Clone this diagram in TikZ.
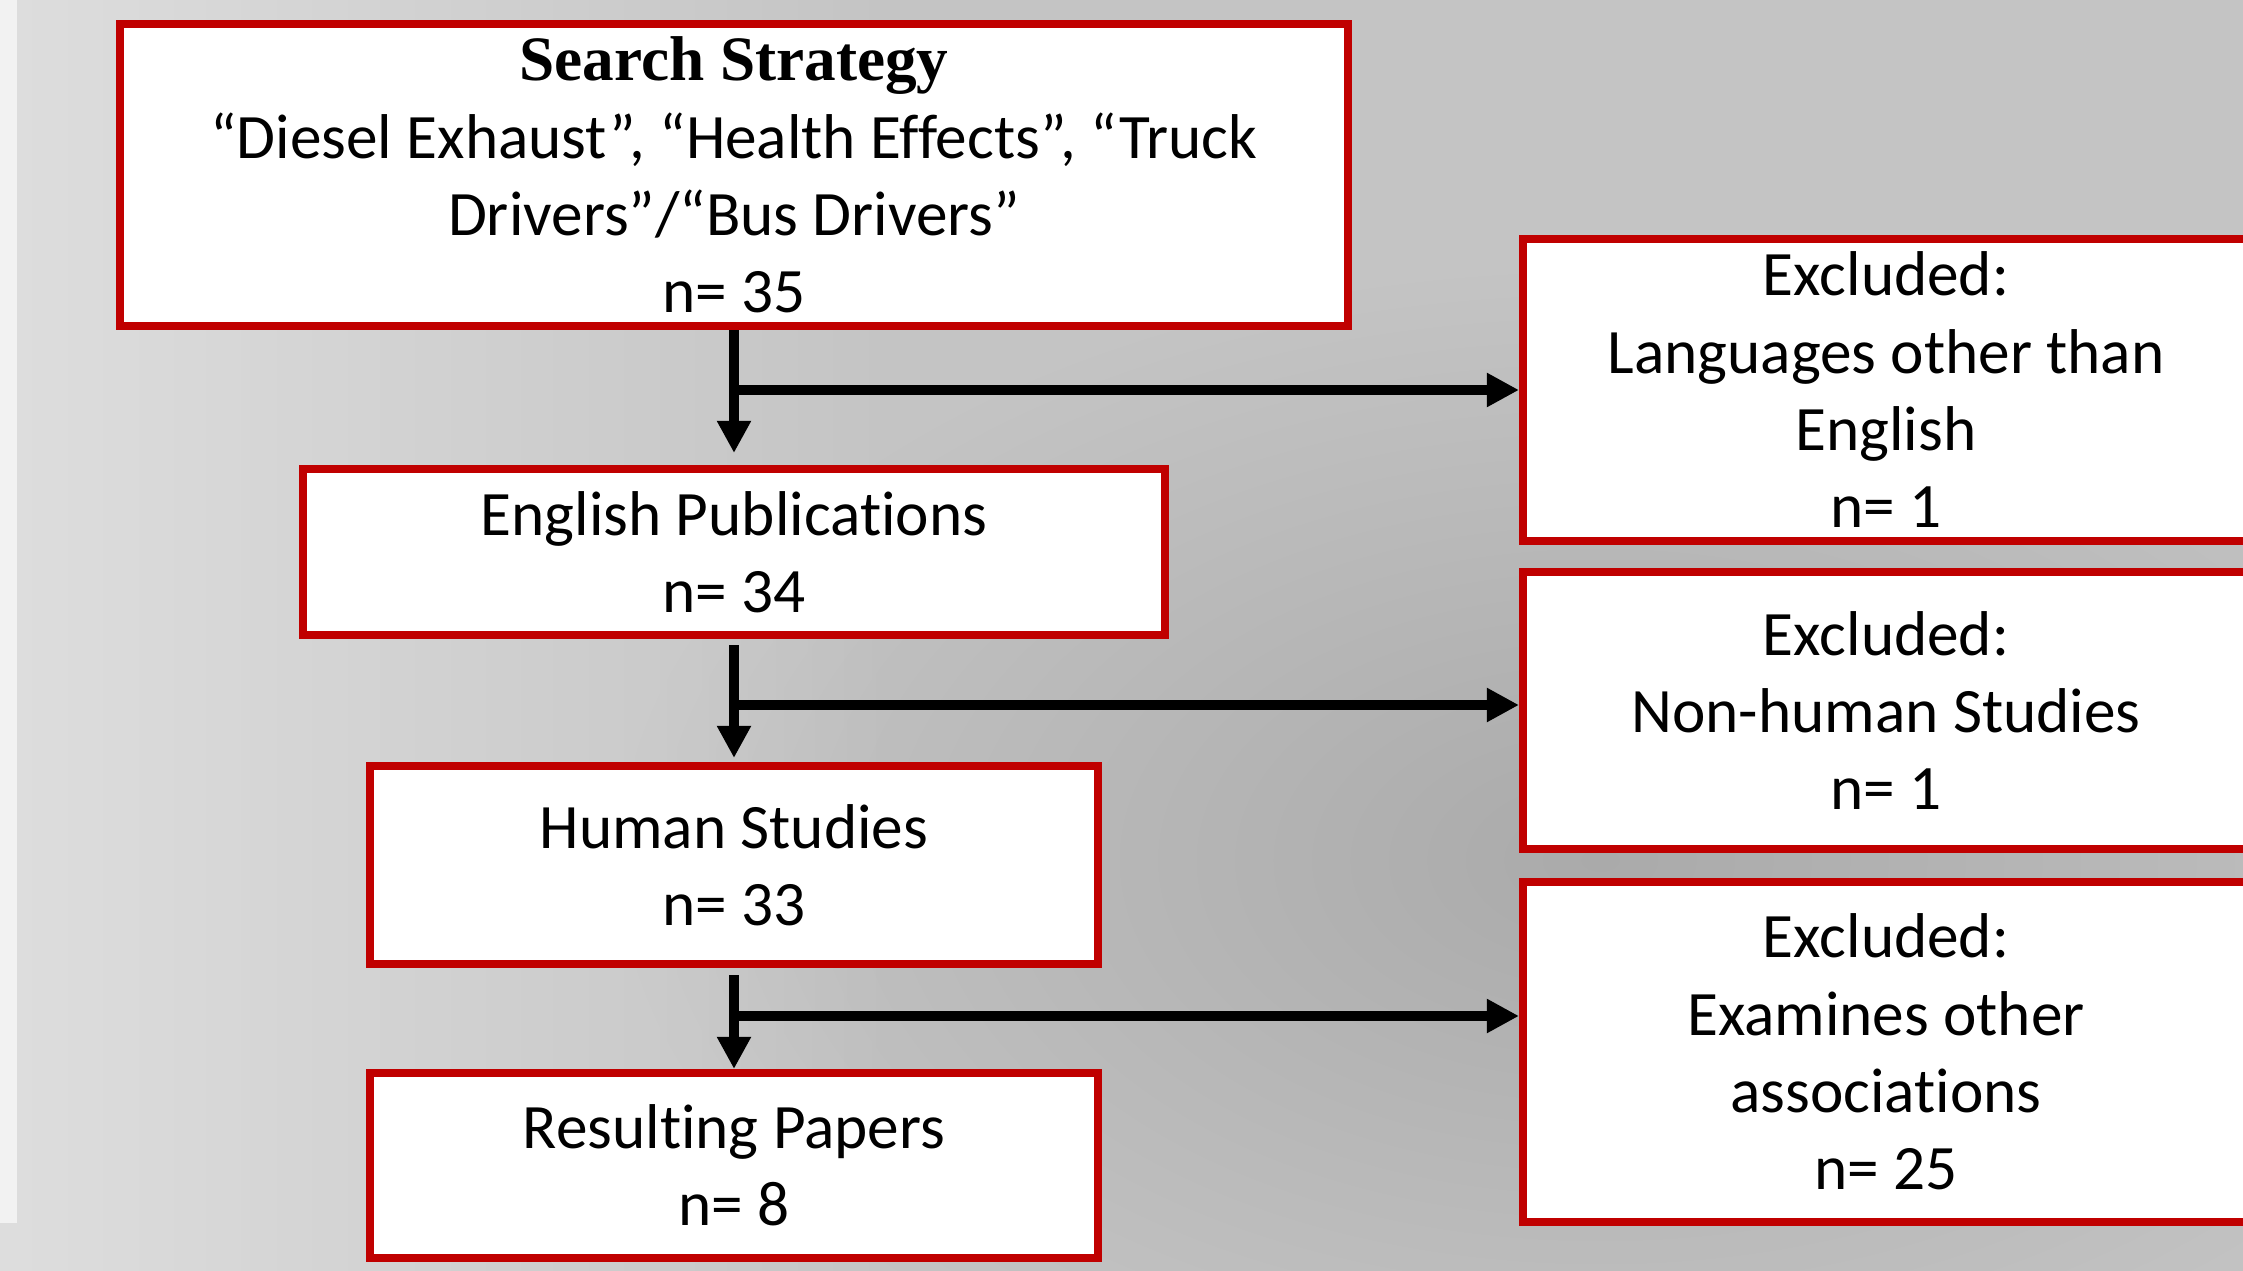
\documentclass[tikz,border=0pt]{standalone}
\usepackage{fontspec}
\setmainfont{Carlito}[Ligatures=CommonOff]
\newfontfamily\headfont{Liberation Serif}
\usetikzlibrary{arrows.meta,fadings}
\definecolor{boxred}{HTML}{C00000}
\definecolor{bglight}{HTML}{DEDEDE}
\definecolor{bgmid}{HTML}{C4C4C4}
\definecolor{bgdark}{HTML}{AAAAAA}
\definecolor{strip}{HTML}{F2F2F2}

\begin{document}
\begin{tikzpicture}[
    stage/.style={draw=boxred, line width=2.3pt, fill=white, inner sep=0pt,
      align=center, font=\fontsize{18}{22}\selectfont},
    flow/.style={line width=2.9pt, -{Triangle[length=0.32cm,width=0.32cm]}}]
  \useasboundingbox (0,0) rectangle (22.43,-12.71);
  % grey backdrop
  \fill[bgmid] (0,0) rectangle (22.43,-12.71);
  \shade[inner color=bgdark, outer color=bgmid] (16,-8.6) ellipse (10 and 6);
  \fill[bglight, path fading=east] (0,0) rectangle (9,-12.71);
  \fill[strip] (0,0) rectangle (0.17,-12.23);

  % main column
  \node[stage, minimum width=12.28cm, minimum height=3.02cm] (search) at (7.34,-1.75)
    {{\headfont\bfseries Search Strategy}\\
     “Diesel Exhaust”, “Health Effects”, “Truck\\ Drivers”/“Bus Drivers”\\ n= 35};
  \node[stage, minimum width=8.62cm, minimum height=1.66cm] (english) at (7.34,-5.52)
    {English Publications\\ n= 34};
  \node[stage, minimum width=7.28cm, minimum height=1.98cm] (human) at (7.34,-8.65)
    {Human Studies\\ n= 33};
  \node[stage, minimum width=7.28cm, minimum height=1.85cm] (result) at (7.34,-11.655)
    {Resulting Papers\\ n= 8};

  % exclusions
  \node[stage, minimum width=7.26cm, minimum height=3.02cm] (exlang) at (18.86,-3.90)
    {Excluded:\\ Languages other than\\ English\\ n= 1};
  \node[stage, minimum width=7.26cm, minimum height=2.77cm] (exhuman) at (18.86,-7.105)
    {Excluded:\\ Non-human Studies\\ n= 1};
  \node[stage, minimum width=7.26cm, minimum height=3.40cm] (exassoc) at (18.86,-10.52)
    {Excluded:\\ Examines other\\ associations\\ n= 25};

  \coordinate (split1) at (search.south |- exlang.west);
  \coordinate (split2) at (7.34,-7.05);
  \coordinate (split3) at (7.34,-10.16);

  \draw[flow, shorten >=0.12cm] (search.south) -- (english.north);
  \draw[flow, shorten <=0.06cm, shorten >=0.04cm] (english.south) -- (human.north);
  \draw[flow, shorten <=0.07cm] (human.south) -- (result.north);
  \draw[flow] (split1) -- (exlang.west);
  \draw[flow] (split2) -- (split2 -| exhuman.west);
  \draw[flow] (split3) -- (split3 -| exassoc.west);
\end{tikzpicture}
\end{document}
